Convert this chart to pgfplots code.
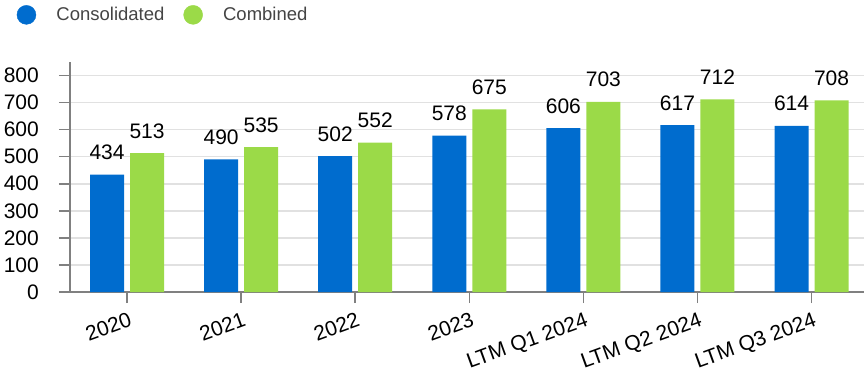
\documentclass[border=0pt]{standalone}
\usepackage{fontspec}
\setmainfont{Liberation Sans}
\usepackage{pgfplots}
\pgfplotsset{compat=1.18}

\definecolor{cblue}{RGB}{0,108,206}
\definecolor{cgreen}{RGB}{155,218,72}
\definecolor{axisgray}{RGB}{128,128,128}
\definecolor{gridgray}{RGB}{225,225,225}
\definecolor{legtext}{RGB}{68,68,68}

\begin{document}
\begin{tikzpicture}
\useasboundingbox (0,0) rectangle (864pt,372pt);
\begin{axis}[
  at={(70pt,80pt)}, anchor=south west,
  scale only axis,
  width=794pt, height=230pt,
  xmin=-0.5, xmax=6.46,
  ymin=0, ymax=850,
  ytick={0,100,...,800},
  xtick=data,
  xticklabels={2020,2021,2022,2023,LTM Q1 2024,LTM Q2 2024,LTM Q3 2024},
  axis lines=left,
  axis line style={-, draw=axisgray, line width=1.5pt},
  tick style={draw=axisgray, line width=1.5pt},
  tick align=outside,
  major tick length=11pt,
  ymajorgrids,
  major grid style={draw=gridgray, line width=1.5pt},
  /pgf/number format/assume math mode=true,
  ticklabel style={font=\fontsize{21}{25}\selectfont, text=black},
  yticklabel style={inner sep=0pt, xshift=-20pt},
  xticklabel style={rotate=20, anchor=north east, inner sep=0pt, xshift=-2pt, yshift=-8pt},
  ybar,
  bar width=34pt,
  nodes near coords,
  nodes near coords style={font=\fontsize{21}{25}\selectfont, text=black, anchor=base, yshift=15pt, inner sep=0pt},
  legend style={at={(axis description cs:-0.0711,1.205)}, anchor=west,
    draw=none, fill=none, legend columns=2,
    font=\fontsize{18.5}{22}\selectfont, text=legtext,
    /tikz/every even column/.append style={column sep=17pt}},
]
\addlegendimage{legend image code/.code={\fill[cblue] (0pt,0pt) circle (9.5pt);\path[draw=none,fill=none] (-9.5pt,0pt) -- (28pt,0pt);}}
\addlegendentry{Consolidated}
\addlegendimage{legend image code/.code={\fill[cgreen] (0pt,0pt) circle (9.5pt);\path[draw=none,fill=none] (-9.5pt,0pt) -- (28pt,0pt);}}
\addlegendentry{Combined}

\addplot[fill=cblue, draw=none, bar shift=-20pt, forget plot]
  coordinates {(0,434) (1,490) (2,502) (3,578) (4,606) (5,617) (6,614)};
\addplot[fill=cgreen, draw=none, bar shift=20pt, forget plot]
  coordinates {(0,513) (1,535) (2,552) (3,675) (4,703) (5,712) (6,708)};
\end{axis}
\end{tikzpicture}
\end{document}
